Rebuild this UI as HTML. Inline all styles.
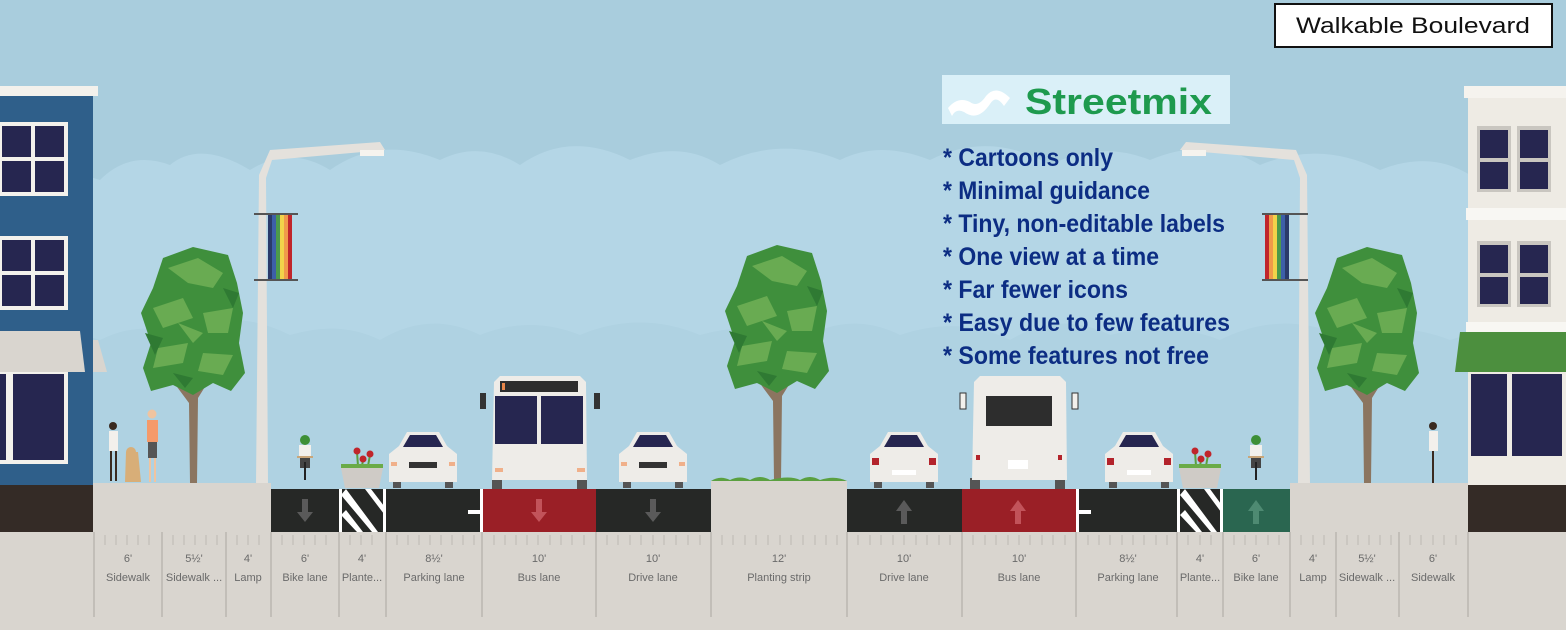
<!DOCTYPE html>
<html><head><meta charset="utf-8"><style>
html,body{margin:0;padding:0;background:#a9cddd;}
svg{display:block;}
</style></head><body>
<svg width="1566" height="630" viewBox="0 0 1566 630" xmlns="http://www.w3.org/2000/svg">
<defs>
<g id="tree">
  <path d="M-3 0 L-4 -80 L-30 -115 L-26 -118 L-3 -90 L-1 -130 L3 -130 L3 -95 L24 -125 L28 -122 L5 -85 L4 0 Z" fill="#8b7560"/>
  <path d="M-30 -225 L0 -236 L35 -228 L44 -200 L50 -170 L46 -140 L52 -110 L38 -92 L20 -100 L0 -88 L-20 -98 L-42 -92 L-50 -115 L-42 -140 L-52 -170 L-40 -195 Z" fill="#3f8f3c"/>
  <path d="M-25 -215 L5 -225 L30 -210 L20 -195 L-5 -200 Z M-40 -175 L-10 -185 L0 -165 L-30 -155 Z M10 -170 L40 -175 L35 -150 L15 -150 Z M-35 -135 L-5 -140 L-10 -120 L-40 -115 Z M10 -130 L40 -128 L30 -108 L5 -112 Z M-15 -160 L10 -150 L0 -140 Z" fill="#69ab52"/>
  <path d="M-48 -150 L-30 -145 L-38 -128 Z M30 -195 L46 -190 L40 -175 Z M-20 -110 L0 -105 L-8 -95 Z" fill="#2f7a33"/>
</g>
<g id="carF">
  <rect x="-30" y="46" width="8" height="10" fill="#555"/><rect x="22" y="46" width="8" height="10" fill="#555"/>
  <path d="M-24 14 L-16 0 L16 0 L24 14 L34 22 L34 50 L-34 50 L-34 22 Z" fill="#eeece8"/>
  <path d="M-20 15 L-13 3 L13 3 L20 15 Z" fill="#262650"/>
  <rect x="-14" y="30" width="28" height="6" fill="#333"/>
  <rect x="-32" y="30" width="6" height="4" fill="#f0b08a"/><rect x="26" y="30" width="6" height="4" fill="#f0b08a"/>
</g>
<g id="carR">
  <rect x="-30" y="46" width="8" height="10" fill="#555"/><rect x="22" y="46" width="8" height="10" fill="#555"/>
  <path d="M-24 14 L-16 0 L16 0 L24 14 L34 22 L34 50 L-34 50 L-34 22 Z" fill="#eeece8"/>
  <path d="M-20 15 L-13 3 L13 3 L20 15 Z" fill="#262650"/>
  <rect x="-32" y="26" width="7" height="7" fill="#b3232b"/><rect x="25" y="26" width="7" height="7" fill="#b3232b"/>
  <rect x="-12" y="38" width="24" height="5" fill="#fff"/>
</g>
<g id="planter">
  <path d="M-4 -22 L-5 -36 M6 -22 L8 -33 M0 -22 L1 -28" stroke="#5aa040" stroke-width="2"/>
  <circle cx="-5" cy="-37" r="3.5" fill="#c0252b"/><circle cx="8" cy="-34" r="3.5" fill="#c0252b"/><circle cx="1" cy="-29" r="3.5" fill="#c0252b"/>
  <rect x="-21" y="-24" width="42" height="4" fill="#6aab48"/>
  <path d="M-21 -20 L21 -20 L17 0 L-17 0 Z" fill="#cfcbc6"/>
</g>
<g id="bike">
  <circle cx="0" cy="-38" r="5" fill="#3d8f36"/>
  <rect x="-6" y="-33" width="12" height="13" fill="#f2f0ec"/>
  <rect x="-8" y="-22" width="16" height="2" fill="#c9a67a"/>
  <rect x="-5" y="-20" width="10" height="10" fill="#444"/>
  <rect x="-1" y="-16" width="2" height="18" fill="#222"/>
</g>
</defs>

<rect width="1566" height="630" fill="#a9cddd"/>
<path d="M0 210 Q40 160 100 180 Q130 150 170 165 Q200 140 250 170 Q290 145 330 170 Q380 135 440 160 Q480 140 520 165 Q570 130 630 160 Q680 140 720 165 Q780 135 840 160 Q880 140 930 160 Q990 130 1050 165 Q1100 140 1150 160 Q1210 135 1260 165 Q1320 140 1380 170 Q1430 150 1470 175 Q1520 160 1566 185 L1566 630 L0 630 Z" fill="#b4d6e6"/>
<path d="M0 350 Q40 320 100 340 Q140 320 180 335 Q230 305 290 335 Q340 320 380 340 Q430 310 480 335 Q530 315 580 335 Q640 310 700 335 Q750 320 800 340 Q850 310 900 335 Q960 315 1010 340 Q1060 310 1110 335 Q1170 320 1220 340 Q1280 310 1340 335 Q1400 320 1450 340 Q1510 320 1566 340 L1566 630 L0 630 Z" fill="#afd2e2"/>

<rect x="0" y="96" width="93" height="390" fill="#2f5f8a"/>
<rect x="0" y="86" width="98" height="10" fill="#f3f1ec"/>
<g fill="#f3f1ec">
<rect x="0" y="122" width="68" height="74"/><rect x="0" y="236" width="68" height="74"/><rect x="0" y="370" width="68" height="94"/>
</g>
<g fill="#262650">
<rect x="2" y="126" width="29" height="31"/><rect x="35" y="126" width="29" height="31"/><rect x="2" y="161" width="29" height="31"/><rect x="35" y="161" width="29" height="31"/>
<rect x="2" y="240" width="29" height="31"/><rect x="35" y="240" width="29" height="31"/><rect x="2" y="275" width="29" height="31"/><rect x="35" y="275" width="29" height="31"/>
<rect x="0" y="374" width="6" height="86"/><rect x="13" y="374" width="51" height="86"/>
</g>
<path d="M0 331 L80 331 L85 372 L0 372 Z" fill="#d9d5cf"/>
<path d="M93 340 L98 340 L107 372 L93 372 Z" fill="#d9d5cf"/>

<rect x="1468" y="96" width="98" height="390" fill="#eeebe4"/>
<rect x="1464" y="86" width="102" height="12" fill="#f5f3ee"/>
<rect x="1466" y="208" width="100" height="12" fill="#f8f7f3"/>
<rect x="1466" y="322" width="100" height="10" fill="#f8f7f3"/>
<g fill="#c9c6c0"><rect x="1477" y="126" width="34" height="66"/><rect x="1517" y="126" width="34" height="66"/><rect x="1477" y="241" width="34" height="66"/><rect x="1517" y="241" width="34" height="66"/></g>
<g fill="#262650">
<rect x="1480" y="130" width="28" height="28"/><rect x="1520" y="130" width="28" height="28"/><rect x="1480" y="162" width="28" height="27"/><rect x="1520" y="162" width="28" height="27"/>
<rect x="1480" y="245" width="28" height="28"/><rect x="1520" y="245" width="28" height="28"/><rect x="1480" y="277" width="28" height="27"/><rect x="1520" y="277" width="28" height="27"/>
<rect x="1471" y="374" width="36" height="82"/><rect x="1512" y="374" width="50" height="82"/>
</g>
<path d="M1460 332 L1566 332 L1566 372 L1455 372 Z" fill="#4c8f3e"/>

<path d="M256 484 L259 175 L270 150 L380 142 L385 150 L272 160 L266 178 L268 484 Z" fill="#e4e1dc"/>
<rect x="360" y="150" width="24" height="6" fill="#f5f3ee"/>
<rect x="254" y="213" width="44" height="2" fill="#555"/><rect x="254" y="279" width="44" height="2" fill="#555"/>
<g><rect x="268" y="215" width="4" height="64" fill="#2a3a6a"/><rect x="272" y="215" width="4" height="64" fill="#3d5fa8"/><rect x="276" y="215" width="4" height="64" fill="#4c9a4a"/><rect x="280" y="215" width="4" height="64" fill="#f2d34a"/><rect x="284" y="215" width="4" height="64" fill="#f09a4a"/><rect x="288" y="215" width="4" height="64" fill="#c0252b"/></g>
<path d="M1310 484 L1307 175 L1296 150 L1186 142 L1180 150 L1294 160 L1300 178 L1298 484 Z" fill="#e4e1dc"/>
<rect x="1182" y="150" width="24" height="6" fill="#f5f3ee"/>
<rect x="1262" y="213" width="46" height="2" fill="#555"/><rect x="1262" y="279" width="46" height="2" fill="#555"/>
<g><rect x="1265" y="215" width="4" height="64" fill="#c0252b"/><rect x="1269" y="215" width="4" height="64" fill="#f09a4a"/><rect x="1273" y="215" width="4" height="64" fill="#f2d34a"/><rect x="1277" y="215" width="4" height="64" fill="#4c9a4a"/><rect x="1281" y="215" width="4" height="64" fill="#3d5fa8"/><rect x="1285" y="215" width="4" height="64" fill="#2a3a6a"/></g>

<use href="#tree" transform="translate(193,483)"/>
<use href="#tree" transform="translate(777,481)"/>
<use href="#tree" transform="translate(1367,483)"/>

<g>
<circle cx="113" cy="426" r="4" fill="#3a2a20"/><rect x="109" y="431" width="9" height="20" fill="#f2f0ec"/><rect x="110" y="451" width="2" height="30" fill="#3a2a20"/><rect x="115" y="451" width="2" height="30" fill="#3a2a20"/>
<circle cx="152" cy="414" r="4.5" fill="#f0c4a0"/><rect x="147" y="420" width="11" height="22" fill="#f59a6a"/><rect x="148" y="442" width="9" height="16" fill="#555"/><rect x="149" y="458" width="2" height="24" fill="#f0c4a0"/><rect x="154" y="458" width="2" height="24" fill="#f0c4a0"/>
<path d="M126 452 L138 452 L141 482 L125 482 Z" fill="#d8ae78"/><circle cx="131" cy="452" r="5" fill="#d8ae78"/>
<circle cx="1433" cy="426" r="4" fill="#3a2a20"/><rect x="1429" y="431" width="9" height="20" fill="#f2f0ec"/><rect x="1432" y="451" width="2" height="32" fill="#3a2a20"/>
</g>
<use href="#bike" transform="translate(305,478)"/>
<use href="#bike" transform="translate(1256,478)"/>
<use href="#planter" transform="translate(362,488)"/>
<use href="#planter" transform="translate(1200,488)"/>

<use href="#carF" transform="translate(423,432)"/>
<use href="#carF" transform="translate(653,432)"/>
<use href="#carR" transform="translate(904,432)"/>
<use href="#carR" transform="translate(1139,432)"/>
<g>
<rect x="492" y="478" width="10" height="12" fill="#555"/><rect x="577" y="478" width="10" height="12" fill="#555"/>
<path d="M494 382 L500 376 L580 376 L586 382 L587 480 L492 480 Z" fill="#eeece8"/>
<rect x="500" y="381" width="78" height="11" fill="#2d2d2d"/><rect x="502" y="383" width="3" height="7" fill="#e8864a"/>
<rect x="495" y="396" width="42" height="48" fill="#262650"/><rect x="541" y="396" width="42" height="48" fill="#262650"/>
<rect x="480" y="393" width="6" height="16" fill="#333"/><rect x="594" y="393" width="6" height="16" fill="#333"/>
<rect x="495" y="468" width="8" height="4" fill="#f0b08a"/><rect x="577" y="468" width="8" height="4" fill="#f0b08a"/>
</g>
<g>
<rect x="970" y="478" width="10" height="12" fill="#555"/><rect x="1055" y="478" width="10" height="12" fill="#555"/>
<path d="M974 382 L980 376 L1060 376 L1066 382 L1067 480 L972 480 Z" fill="#eeece8"/>
<rect x="986" y="396" width="66" height="30" fill="#2d2d2d"/>
<rect x="960" y="393" width="6" height="16" fill="#f2f0ec" stroke="#333"/><rect x="1072" y="393" width="6" height="16" fill="#f2f0ec" stroke="#333"/>
<rect x="976" y="455" width="4" height="5" fill="#b3232b"/><rect x="1058" y="455" width="4" height="5" fill="#b3232b"/>
<rect x="1008" y="460" width="20" height="9" fill="#fff"/>
</g>

<rect x="0" y="485" width="93" height="47" fill="#342b26"/>
<rect x="1468" y="485" width="98" height="47" fill="#342b26"/>
<rect x="93" y="483" width="178" height="49" fill="#d9d5cf"/>
<rect x="1290" y="483" width="178" height="49" fill="#d9d5cf"/>
<rect x="711" y="481" width="136" height="51" fill="#d9d5cf"/>
<path d="M711 481 Q720 475 730 480 Q740 475 750 480 Q760 474 770 480 Q790 475 800 480 Q810 474 820 480 Q835 475 847 481 Z" fill="#5aa040"/>
<g>
<rect x="271" y="489" width="68" height="43" fill="#262826"/>
<rect x="339" y="489" width="47" height="43" fill="#262826"/>
<path d="M341 495 L346 489 L378 532 L372 532 Z M341 515 L346 510 L363 532 L357 532 Z M365 489 L371 489 L384 506 L384 514 Z" fill="#fff"/>
<rect x="339" y="489" width="3" height="43" fill="#fff"/><rect x="383" y="489" width="3" height="43" fill="#fff"/>
<rect x="386" y="489" width="96" height="43" fill="#262826"/>
<rect x="480" y="489" width="3" height="43" fill="#fff"/><rect x="468" y="510" width="12" height="4" fill="#fff"/>
<rect x="483" y="489" width="113" height="43" fill="#9a1f26"/>
<rect x="596" y="489" width="115" height="43" fill="#262826"/>
<rect x="847" y="489" width="115" height="43" fill="#262826"/>
<rect x="962" y="489" width="114" height="43" fill="#9a1f26"/>
<rect x="1076" y="489" width="101" height="43" fill="#262826"/>
<rect x="1076" y="489" width="3" height="43" fill="#fff"/><rect x="1079" y="510" width="12" height="4" fill="#fff"/>
<rect x="1177" y="489" width="46" height="43" fill="#262826"/>
<path d="M1180 495 L1185 489 L1217 532 L1211 532 Z M1180 515 L1185 510 L1202 532 L1196 532 Z M1204 489 L1210 489 L1221 504 L1221 512 Z" fill="#fff"/>
<rect x="1177" y="489" width="3" height="43" fill="#fff"/><rect x="1220" y="489" width="3" height="43" fill="#fff"/>
<rect x="1223" y="489" width="67" height="43" fill="#2a6650"/>
</g>
<g>
<path d="M302 499 L308 499 L308 512 L313 512 L305 522 L297 512 L302 512 Z" fill="#5a5a5a"/>
<path d="M536 499 L542 499 L542 512 L547 512 L539 522 L531 512 L536 512 Z" fill="#c2535a"/>
<path d="M650 499 L656 499 L656 512 L661 512 L653 522 L645 512 L650 512 Z" fill="#5a5a5a"/>
<path d="M901 524 L907 524 L907 511 L912 511 L904 500 L896 511 L901 511 Z" fill="#5a5a5a"/>
<path d="M1015 524 L1021 524 L1021 511 L1026 511 L1018 500 L1010 511 L1015 511 Z" fill="#c2535a"/>
<path d="M1253 524 L1259 524 L1259 511 L1264 511 L1256 500 L1248 511 L1253 511 Z" fill="#4e8a72"/>
</g>
<rect x="0" y="532" width="1566" height="98" fill="#d9d5cf"/>
<g stroke="#aaa6a0" stroke-width="1">
<path d="M94 532V617M162 532V617M226 532V617M271 532V617M339 532V617M386 532V617M482 532V617M596 532V617M711 532V617M847 532V617M962 532V617M1076 532V617M1177 532V617M1223 532V617M1290 532V617M1336 532V617M1399 532V617M1468 532V617"/>
</g>
<g stroke="#bdb9b3" stroke-width="1">
<path d="M105 535V545M116 535V545M127 535V545M138 535V545M149 535V545M173 535V545M184 535V545M195 535V545M206 535V545M217 535V545M237 535V545M248 535V545M259 535V545M282 535V545M293 535V545M304 535V545M315 535V545M326 535V545M350 535V545M361 535V545M372 535V545M397 535V545M408 535V545M419 535V545M430 535V545M441 535V545M452 535V545M463 535V545M474 535V545M494 535V545M505 535V545M516 535V545M527 535V545M538 535V545M550 535V545M561 535V545M572 535V545M584 535V545M607 535V545M618 535V545M630 535V545M641 535V545M653 535V545M664 535V545M676 535V545M688 535V545M700 535V545M722 535V545M733 535V545M745 535V545M756 535V545M768 535V545M780 535V545M791 535V545M803 535V545M815 535V545M826 535V545M837 535V545M858 535V545M870 535V545M881 535V545M893 535V545M904 535V545M916 535V545M927 535V545M939 535V545M950 535V545M973 535V545M985 535V545M996 535V545M1008 535V545M1019 535V545M1030 535V545M1042 535V545M1053 535V545M1065 535V545M1088 535V545M1099 535V545M1110 535V545M1122 535V545M1133 535V545M1144 535V545M1156 535V545M1167 535V545M1188 535V545M1200 535V545M1211 535V545M1234 535V545M1245 535V545M1256 535V545M1268 535V545M1279 535V545M1301 535V545M1313 535V545M1324 535V545M1347 535V545M1358 535V545M1369 535V545M1380 535V545M1391 535V545M1410 535V545M1421 535V545M1433 535V545M1444 535V545M1456 535V545"/>
</g>
<g font-family="Liberation Sans Narrow, Liberation Sans, sans-serif" font-size="11" fill="#6a6a6a" text-anchor="middle">
<text x="128" y="562">6'</text><text x="128" y="581">Sidewalk</text>
<text x="194" y="562">5½'</text><text x="194" y="581">Sidewalk ...</text>
<text x="248" y="562">4'</text><text x="248" y="581">Lamp</text>
<text x="305" y="562">6'</text><text x="305" y="581">Bike lane</text>
<text x="362" y="562">4'</text><text x="362" y="581">Plante...</text>
<text x="434" y="562">8½'</text><text x="434" y="581">Parking lane</text>
<text x="539" y="562">10'</text><text x="539" y="581">Bus lane</text>
<text x="653" y="562">10'</text><text x="653" y="581">Drive lane</text>
<text x="779" y="562">12'</text><text x="779" y="581">Planting strip</text>
<text x="904" y="562">10'</text><text x="904" y="581">Drive lane</text>
<text x="1019" y="562">10'</text><text x="1019" y="581">Bus lane</text>
<text x="1128" y="562">8½'</text><text x="1128" y="581">Parking lane</text>
<text x="1200" y="562">4'</text><text x="1200" y="581">Plante...</text>
<text x="1256" y="562">6'</text><text x="1256" y="581">Bike lane</text>
<text x="1313" y="562">4'</text><text x="1313" y="581">Lamp</text>
<text x="1367" y="562">5½'</text><text x="1367" y="581">Sidewalk ...</text>
<text x="1433" y="562">6'</text><text x="1433" y="581">Sidewalk</text>
</g>

<rect x="1275" y="4" width="277" height="43" fill="#fff" stroke="#111" stroke-width="2"/>
<text x="1413" y="33" font-family="Liberation Sans, sans-serif" font-size="22" fill="#111" text-anchor="middle" textLength="234" lengthAdjust="spacingAndGlyphs">Walkable Boulevard</text>

<rect x="942" y="75" width="288" height="49" fill="#daf0f8"/>
<path d="M948 108 Q958 96 970 102 Q978 108 986 96 Q996 84 1010 98 L1004 106 Q996 94 990 104 Q978 122 964 112 Q956 108 952 116 Z" fill="#fff"/>
<text x="1025" y="114" font-family="Liberation Sans, sans-serif" font-weight="bold" font-size="36" fill="#1e9a4e" textLength="187" lengthAdjust="spacingAndGlyphs">Streetmix</text>
<g font-family="Liberation Sans Narrow, Liberation Sans, sans-serif" font-weight="bold" font-size="25" fill="#0c2d83">
<text x="943" y="166" textLength="170" lengthAdjust="spacingAndGlyphs">* Cartoons only</text>
<text x="943" y="199" textLength="207" lengthAdjust="spacingAndGlyphs">* Minimal guidance</text>
<text x="943" y="232" textLength="282" lengthAdjust="spacingAndGlyphs">* Tiny, non-editable labels</text>
<text x="943" y="265" textLength="216" lengthAdjust="spacingAndGlyphs">* One view at a time</text>
<text x="943" y="298" textLength="185" lengthAdjust="spacingAndGlyphs">* Far fewer icons</text>
<text x="943" y="331" textLength="287" lengthAdjust="spacingAndGlyphs">* Easy due to few features</text>
<text x="943" y="364" textLength="266" lengthAdjust="spacingAndGlyphs">* Some features not free</text>
</g>
</svg>
</body></html>
